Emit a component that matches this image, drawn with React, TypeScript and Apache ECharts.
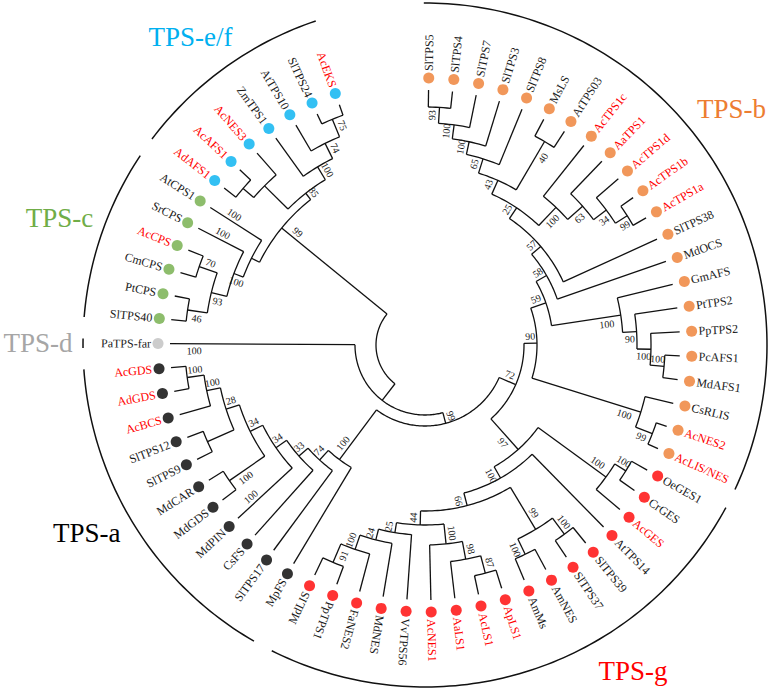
import { useEffect, useRef } from "react";
import * as echarts from "echarts";

// ---------------- data ----------------
const leafNames = [
  "SlTPS5", "SlTPS4", "SlTPS7", "SlTPS3", "SlTPS8", "MsLS", "AtTPS03", "AcTPS1c", "AaTPS1", "AcTPS1d",
  "AcTPS1b", "AcTPS1a", "SlTPS38", "MdOCS", "GmAFS", "PtTPS2", "PpTPS2", "PcAFS1", "MdAFS1", "CsRLIS",
  "AcNES2", "AcLIS/NES", "OeGES1", "CrGES", "AcGES", "AtTPS14", "SlTPS39", "SlTPS37", "AmNES", "AmMs",
  "ApLS1", "AcLS1", "AaLS1", "AcNES1", "VvTPS56", "MdNES", "FaNES2", "PpTPS1", "MdLIS", "MpFS",
  "SlTPS17", "CsFS", "MdPIN", "MdGDS", "MdCAR", "SlTPS9", "SlTPS12", "AcBCS", "AdGDS", "AcGDS",
  "PaTPS-far", "SlTPS40", "PtCPS", "CmCPS", "AcCPS", "SrCPS", "AtCPS1", "AdAFS1", "AcAFS1", "AcNES3",
  "ZmTPS1", "AtTPS10", "SlTPS24", "AcEKS",
];

const redLeafNames = [
  "AcTPS1c", "AaTPS1", "AcTPS1d", "AcTPS1b", "AcTPS1a", "AcNES2", "AcLIS/NES", "AcGES", "ApLS1", "AcLS1",
  "AaLS1", "AcNES1", "AcBCS", "AdGDS", "AcGDS", "AcCPS", "AdAFS1", "AcAFS1", "AcNES3", "AcEKS",
];

const cladeNames = ["TPS-b", "TPS-g", "TPS-a", "TPS-d", "TPS-c", "TPS-e/f"];
const cladeFirstLeaf = ["SlTPS5", "OeGES1", "MpFS", "PaTPS-far", "SlTPS40", "AdAFS1"];
const cladeLastLeaf = ["AcLIS/NES", "MdLIS", "AcGDS", "PaTPS-far", "AtCPS1", "AcEKS"];
const cladeDotColors = ["#ED7D31", "#FF0000", "#000000", "#BFBFBF", "#70AD47", "#00B0F0"];
const cladeTextColors = ["#ED7D31", "#FF0000", "#000000", "#A6A6A6", "#70AD47", "#00B0F0"];

// internal nodes: [id, child A, child B, node radius (tree depth units), bootstrap]
type NodeRow = [string, string, string, number, number | null];
const internalNodes: NodeRow[] = [
  ["B93", "SlTPS5", "SlTPS4", 238, 93],
  ["B100a", "B93", "SlTPS7", 222, 100],
  ["B100b", "B100a", "SlTPS3", 208, 100],
  ["B65", "B100b", "SlTPS8", 195, 65],
  ["B40", "MsLS", "AtTPS03", 236, 40],
  ["B43", "B65", "B40", 180, 43],
  ["B99", "AcTPS1b", "AcTPS1a", 240, 99],
  ["B34", "AcTPS1d", "B99", 226, 34],
  ["B63", "AaTPS1", "B34", 210, 63],
  ["B100c", "AcTPS1c", "B63", 190, 100],
  ["B25", "B43", "B100c", 165, 25],
  ["B57", "B25", "SlTPS38", 152, 57],
  ["B58", "B57", "MdOCS", 140, 58],
  ["P1", "PcAFS1", "MdAFS1", 240, 100],
  ["P2", "PpTPS2", "P1", 226, 100],
  ["P3", "PtTPS2", "P2", 212, 90],
  ["P4", "GmAFS", "P3", 198, 100],
  ["N59", "B58", "P4", 128, 59],
  ["C1", "AcNES2", "AcLIS/NES", 244, 99],
  ["C2", "CsRLIS", "C1", 226, 100],
  ["N90", "N59", "C2", 112, 90],
  ["G1", "OeGES1", "CrGES", 237, 100],
  ["G2", "G1", "AcGES", 224, 100],
  ["G3", "SlTPS39", "SlTPS37", 235, 100],
  ["G4", "AmNES", "AmMs", 232, 100],
  ["G5", "G3", "G4", 215, 99],
  ["L87", "ApLS1", "AcLS1", 236, 87],
  ["L98", "L87", "AaLS1", 218, 98],
  ["L100", "L98", "AcNES1", 200, 100],
  ["N91", "PpTPS1", "MdLIS", 236, 91],
  ["N100", "FaNES2", "N91", 216, 100],
  ["N24", "MdNES", "N100", 201, 24],
  ["N25", "VvTPS56", "N24", 190, 25],
  ["G44", "L100", "N25", 180, 44],
  ["G66", "G5", "G44", 166, 66],
  ["G100", "AtTPS14", "G66", 153, 100],
  ["G97", "G2", "G100", 140, 97],
  ["N72", "N90", "G97", 99, 72],
  ["A1", "AcGDS", "AdGDS", 240, 100],
  ["A2", "A1", "AcBCS", 223, 100],
  ["A9", "SlTPS12", "SlTPS9", 238, null],
  ["A3", "A2", "A9", 209, 28],
  ["A10", "MdCAR", "MdGDS", 238, 100],
  ["A4", "A3", "A10", 195, 34],
  ["A5", "A4", "MdPIN", 181, 34],
  ["A6", "A5", "CsFS", 168, 33],
  ["A7", "A6", "SlTPS17", 156, 74],
  ["A8", "A7", "MpFS", 143, 100],
  ["N99b", "A8", "N72", 81, 99],
  ["B", "PaTPS-far", "N99b", 70, null],
  ["C70", "AcCPS", "CmCPS", 239, 70],
  ["C46", "PtCPS", "SlTPS40", 240, 46],
  ["C93", "C70", "C46", 220, 93],
  ["C100a", "C93", "SrCPS", 204, 100],
  ["C100b", "C100a", "AtCPS1", 194, null],
  ["EFa1", "AdAFS1", "AcAFS1", 240, null],
  ["EFa", "EFa1", "AcNES3", 226, null],
  ["EF75", "SlTPS24", "AcEKS", 244, 75],
  ["EF74", "AtTPS10", "EF75", 225, 74],
  ["EF100", "ZmTPS1", "EF74", 208, 100],
  ["EF85", "EFa", "EF100", 193, 85],
  ["CEF", "C100b", "EF85", 185, 99],
  ["ROOT", "B", "CEF", 49, null],
];

// bootstrap values written along terminal branches
const leafSupportNames = ["PaTPS-far", "SrCPS", "AtCPS1", "MdPIN"];
const leafSupportValues = [100, 100, 100, 100];
const leafSupportClockwise = [false, true, true, true];

// nodes whose two subtrees are equal in size but whose label sits on the clockwise side
const tieLabelClockwise = ["C70", "G4", "EF75", "B99", "B40", "C1", "A1"];

// ---------------- layout constants ----------------
const CX = 425;
const CY = 345;
const R_MAX = 345;
const STEP = 5.39;
const START = 0.8;
const TIP_R = 255;
const DOT_R = 267;
const LABEL_R = 274;
const CLADE_R = 342;
const CLADE_PAD = 1.0;
const CLADE_LABEL_R = 387;
const cladeLabelNudge: Record<string, number> = { "TPS-g": -15, "TPS-a": 3, "TPS-b": -5, "TPS-e/f": -1.5 };
const FAMILY = "'Times New Roman', 'Liberation Serif', Tinos, serif";

function buildTree() {
  const angle: Record<string, number> = {};
  const radius: Record<string, number> = {};
  const count: Record<string, number> = {};
  const parent: Record<string, string> = {};
  const kids: Record<string, [string, string]> = {};
  leafNames.forEach((n, i) => {
    angle[n] = START + i * STEP;
    radius[n] = TIP_R;
    count[n] = 1;
  });
  internalNodes.forEach(([id, a, b, r]) => {
    angle[id] = (angle[a] + angle[b]) / 2;
    radius[id] = r;
    count[id] = count[a] + count[b];
    parent[a] = id;
    parent[b] = id;
    kids[id] = [a, b];
  });
  return { angle, radius, count, parent, kids };
}

function screenTheta(v: number) {
  return (((270 + v) % 360) + 360) % 360;
}

export default function App() {
  const ref = useRef<HTMLDivElement>(null);

  useEffect(() => {
    if (!ref.current) return;
    const chart = echarts.init(ref.current, null, { renderer: "svg" });
    const { angle, radius, count, parent, kids } = buildTree();

    const edgeData: number[][] = [];
    const allIds = [...leafNames, ...internalNodes.map((n) => n[0])];
    allIds.forEach((id) => {
      const r = radius[id];
      const pR = parent[id] ? radius[parent[id]] : r;
      let a0 = angle[id];
      let a1 = angle[id];
      if (kids[id]) {
        a0 = Math.min(angle[kids[id][0]], angle[kids[id][1]]);
        a1 = Math.max(angle[kids[id][0]], angle[kids[id][1]]);
      }
      edgeData.push([pR, angle[id], r, a0, a1]);
    });

    const leafClade = leafNames.map((_n, i) => {
      for (let c = 0; c < cladeNames.length; c++) {
        const f = leafNames.indexOf(cladeFirstLeaf[c]);
        const l = leafNames.indexOf(cladeLastLeaf[c]);
        if (i >= f && i <= l) return c;
      }
      return 0;
    });
    const dotData = leafNames.map((n, i) => ({
      value: [DOT_R, angle[n]],
      itemStyle: { color: cladeDotColors[leafClade[i]] },
    }));

    const leafLabelData = leafNames.map((n, i) => [LABEL_R, angle[n], i]);

    const supportData: number[][] = [];
    const PERP = 7;
    const toDeg = 180 / Math.PI;
    internalNodes.forEach(([id, a, b, r, bs]) => {
      if (bs === null || !parent[id]) return;
      const pR = radius[parent[id]];
      let side: number;
      if (count[a] !== count[b]) {
        const big = count[a] > count[b] ? a : b;
        side = Math.sign(angle[big] - angle[id]);
      } else {
        side = tieLabelClockwise.includes(id) ? 1 : -1;
      }
      const rl = r - Math.min(15, (r - pR) / 2);
      const ang = angle[id] + ((side * PERP) / rl) * toDeg;
      supportData.push([rl, ang, bs]);
    });
    leafSupportNames.forEach((n, k) => {
      const rl = TIP_R - 24;
      const side = leafSupportClockwise[k] ? 1 : -1;
      const ang = angle[n] + ((side * PERP) / rl) * toDeg;
      supportData.push([rl, ang, leafSupportValues[k]]);
    });

    const cladeArcData = cladeNames.map((_c, k) => {
      const f = angle[cladeFirstLeaf[k]];
      const l = angle[cladeLastLeaf[k]];
      const pad = f === l ? 0.8 : CLADE_PAD;
      return [CLADE_R, f - pad, l + pad, k];
    });
    const cladeLabelData = cladeNames.map((c, k) => {
      const f = angle[cladeFirstLeaf[k]];
      const l = angle[cladeLastLeaf[k]];
      return [CLADE_LABEL_R, (f + l) / 2 + (cladeLabelNudge[c] || 0), k];
    });

    const arcPoints = (api: any, r: number, a0: number, a1: number) => {
      const n = Math.max(2, Math.ceil(a1 - a0));
      const pts: number[][] = [];
      for (let k = 0; k <= n; k++) pts.push(api.coord([r, a0 + ((a1 - a0) * k) / n]));
      return pts;
    };

    const textStyle = (text: string, fill: string, size: number, align: string) => ({
      text,
      fill,
      font: `${size}px ${FAMILY}`,
      fontSize: size,
      fontFamily: FAMILY,
      align,
      verticalAlign: "middle",
      textAlign: align,
      textVerticalAlign: "middle",
    });

    const option: any = {
      animation: false,
      backgroundColor: "#ffffff",
      textStyle: { fontFamily: FAMILY },
      polar: { center: [CX, CY], radius: R_MAX },
      angleAxis: { type: "value", min: 0, max: 360, startAngle: 90, clockwise: true, show: false },
      radiusAxis: { type: "value", min: 0, max: R_MAX, show: false },
      series: [
        {
          type: "custom",
          coordinateSystem: "polar",
          silent: true,
          clip: false,
          data: edgeData,
          renderItem: (_p: any, api: any) => {
            const pR = api.value(0);
            const a = api.value(1);
            const r = api.value(2);
            const a0 = api.value(3);
            const a1 = api.value(4);
            const s = api.coord([pR, a]);
            const e = api.coord([r, a]);
            const children: any[] = [];
            if (r > pR) {
              children.push({
                type: "line",
                shape: { x1: s[0], y1: s[1], x2: e[0], y2: e[1] },
                style: { stroke: "#111", lineWidth: 1.3, fill: null },
              });
            }
            if (a1 > a0) {
              children.push({
                type: "polyline",
                shape: { points: arcPoints(api, r, a0, a1) },
                style: { stroke: "#111", lineWidth: 1.3, fill: null },
              });
            }
            return { type: "group", children };
          },
        },
        {
          type: "custom",
          coordinateSystem: "polar",
          silent: true,
          clip: false,
          data: cladeArcData,
          renderItem: (_p: any, api: any) => ({
            type: "polyline",
            shape: { points: arcPoints(api, api.value(0), api.value(1), api.value(2)) },
            style: { stroke: "#111", lineWidth: 1.5, fill: null },
          }),
        },
        {
          type: "scatter",
          coordinateSystem: "polar",
          silent: true,
          symbol: "circle",
          symbolSize: 11,
          data: dotData,
        },
        {
          type: "custom",
          coordinateSystem: "polar",
          silent: true,
          clip: false,
          data: leafLabelData,
          renderItem: (_p: any, api: any) => {
            const a = api.value(1);
            const i = api.value(2);
            const p = api.coord([api.value(0), a]);
            const th = screenTheta(a);
            const flip = th > 112 && th < 262;
            const read = flip ? th - 180 : th;
            const name = leafNames[i];
            return {
              type: "text",
              x: p[0],
              y: p[1],
              rotation: (-read * Math.PI) / 180,
              style: textStyle(name, redLeafNames.includes(name) ? "#FF0000" : "#1a1a1a", 12, flip ? "right" : "left"),
            };
          },
        },
        {
          type: "custom",
          coordinateSystem: "polar",
          silent: true,
          clip: false,
          data: supportData,
          renderItem: (_p: any, api: any) => {
            const a = api.value(1);
            const p = api.coord([api.value(0), a]);
            const th = screenTheta(a);
            const flip = th > 85 && th < 262;
            const read = flip ? th - 180 : th;
            return {
              type: "text",
              x: p[0],
              y: p[1],
              rotation: (-read * Math.PI) / 180,
              style: textStyle(String(api.value(2)), "#1a1a1a", 10, "center"),
            };
          },
        },
        {
          type: "custom",
          coordinateSystem: "polar",
          silent: true,
          clip: false,
          data: cladeLabelData,
          renderItem: (_p: any, api: any) => {
            const k = api.value(2);
            const p = api.coord([api.value(0), api.value(1)]);
            return {
              type: "text",
              x: p[0],
              y: p[1],
              style: textStyle(cladeNames[k], cladeTextColors[k], 27, "center"),
            };
          },
        },
      ],
    };
    chart.setOption(option);
    return () => chart.dispose();
  }, []);

  return (
    <div
      ref={ref}
      style={{ position: "fixed", left: 0, top: 0, width: 777, height: 688, background: "#fff" }}
    />
  );
}
